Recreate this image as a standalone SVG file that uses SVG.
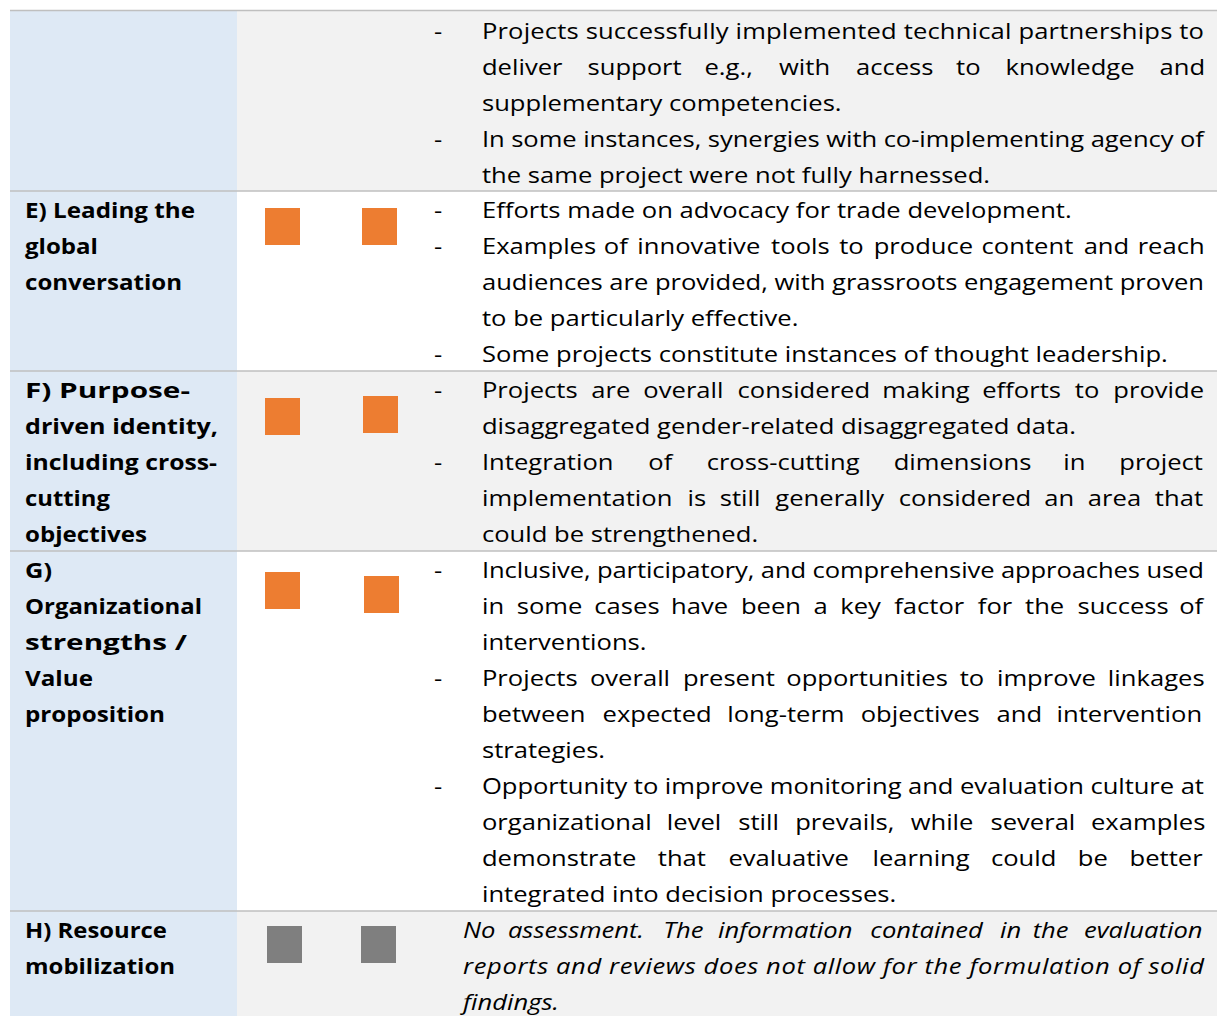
<svg xmlns="http://www.w3.org/2000/svg" width="1217" height="1016" viewBox="0 0 1217 1016">
<style>
.t{font-family:"Open Sans","Liberation Sans",sans-serif;font-size:22px;fill:#000}
.b{font-weight:700}
.i{font-style:italic}
.g{fill:#f2f2f2}
.bl{fill:#dee9f5}
.ln{stroke:#bfbfbf;stroke-width:1.6;fill:none}
.o{fill:#ed7d31}
.n{fill:#7f7f7f}
</style>
<rect width="1217" height="1016" fill="#fff"/>
<g id="backgrounds">
<rect class="g" x="237" y="10" width="980" height="181"/>
<rect class="g" x="237" y="371" width="980" height="180"/>
<rect class="g" x="237" y="911" width="980" height="105"/>
<rect class="bl" x="10" y="10" width="227" height="1006"/>
</g>
<g id="borders">
<line class="ln" x1="10" y1="10.5" x2="1217" y2="10.5"/>
<line class="ln" x1="10" y1="191" x2="1217" y2="191"/>
<line class="ln" x1="10" y1="371" x2="1217" y2="371"/>
<line class="ln" x1="10" y1="551" x2="1217" y2="551"/>
<line class="ln" x1="10" y1="911" x2="1217" y2="911"/>
</g>
<g id="squares">
<rect class="o" x="265" y="208" width="35" height="37"/>
<rect class="o" x="362" y="208" width="35" height="37"/>
<rect class="o" x="265" y="398" width="35" height="37"/>
<rect class="o" x="363" y="396" width="35" height="37"/>
<rect class="o" x="265" y="572" width="35" height="37"/>
<rect class="o" x="364" y="576" width="35" height="37"/>
<rect class="n" x="267" y="926" width="35" height="37"/>
<rect class="n" x="361" y="926" width="35" height="37"/>
</g>
<g transform="scale(1.1636,1)">
<g id="row-d">
<text class="t" x="373" y="39">-</text>
<text class="t" x="414.2" y="39" textLength="620.5" lengthAdjust="spacing">Projects successfully implemented technical partnerships to</text>
<text class="t" y="75"><tspan x="414.2">deliver</tspan><tspan x="504.9">support</tspan><tspan x="605.4">e.g.,</tspan><tspan x="669.5">with</tspan><tspan x="735.6">access</tspan><tspan x="821.6">to</tspan><tspan x="864.1">knowledge</tspan><tspan x="996.5">and</tspan></text>
<text class="t" x="414.2" y="111">supplementary competencies.</text>
<text class="t" x="373" y="147">-</text>
<text class="t" x="414.2" y="147" textLength="620.5" lengthAdjust="spacing">In some instances, synergies with co-implementing agency of</text>
<text class="t" x="414.2" y="183">the same project were not fully harnessed.</text>
</g>
<g id="row-e">
<text class="t b" x="21.5" y="218" textLength="146.1" lengthAdjust="spacingAndGlyphs">E) Leading the</text>
<text class="t b" x="21.5" y="254" textLength="62.7" lengthAdjust="spacingAndGlyphs">global</text>
<text class="t b" x="21.5" y="290" textLength="134.9" lengthAdjust="spacingAndGlyphs">conversation</text>
<text class="t" x="373" y="218">-</text>
<text class="t" x="414.2" y="218">Efforts made on advocacy for trade development.</text>
<text class="t" x="373" y="254">-</text>
<text class="t" y="254"><tspan x="414.2">Examples</tspan><tspan x="518.9">of</tspan><tspan x="547.7">innovative</tspan><tspan x="662.7">tools</tspan><tspan x="721.2">to</tspan><tspan x="750.8">produce</tspan><tspan x="843.6">content</tspan><tspan x="931.3">and</tspan><tspan x="977.7">reach</tspan></text>
<text class="t" x="414.2" y="290" textLength="620.5" lengthAdjust="spacing">audiences are provided, with grassroots engagement proven</text>
<text class="t" x="414.2" y="326">to be particularly effective.</text>
<text class="t" x="373" y="362">-</text>
<text class="t" x="414.2" y="362">Some projects constitute instances of thought leadership.</text>
</g>
<g id="row-f">
<text class="t b" x="21.5" y="398.5" textLength="141.8" lengthAdjust="spacingAndGlyphs">F) Purpose-</text>
<text class="t b" x="21.5" y="434.5" textLength="165.9" lengthAdjust="spacingAndGlyphs">driven identity,</text>
<text class="t b" x="21.5" y="470.5" textLength="165" lengthAdjust="spacingAndGlyphs">including cross-</text>
<text class="t b" x="21.5" y="506.5" textLength="73" lengthAdjust="spacingAndGlyphs">cutting</text>
<text class="t b" x="21.5" y="542.5" textLength="104.8" lengthAdjust="spacingAndGlyphs">objectives</text>
<text class="t" x="373" y="398.5">-</text>
<text class="t" y="398.5"><tspan x="414.2">Projects</tspan><tspan x="508.1">are</tspan><tspan x="552.9">overall</tspan><tspan x="633.9">considered</tspan><tspan x="758.3">making</tspan><tspan x="844.1">efforts</tspan><tspan x="923.7">to</tspan><tspan x="956.8">provide</tspan></text>
<text class="t" x="414.2" y="434.5">disaggregated gender-related disaggregated data.</text>
<text class="t" x="373" y="470.5">-</text>
<text class="t" y="470.5"><tspan x="414.2">Integration</tspan><tspan x="557.2">of</tspan><tspan x="607.3">cross-cutting</tspan><tspan x="768">dimensions</tspan><tspan x="913.8">in</tspan><tspan x="961.9">project</tspan></text>
<text class="t" y="506.5"><tspan x="414.2">implementation</tspan><tspan x="590.8">is</tspan><tspan x="618.6">still</tspan><tspan x="666.3">generally</tspan><tspan x="772.4">considered</tspan><tspan x="897.5">an</tspan><tspan x="934.9">area</tspan><tspan x="992.5">that</tspan></text>
<text class="t" x="414.2" y="542.5">could be strengthened.</text>
</g>
<g id="row-g">
<text class="t b" x="21.5" y="578.5" textLength="23.2" lengthAdjust="spacingAndGlyphs">G)</text>
<text class="t b" x="21.5" y="614.5" textLength="152.1" lengthAdjust="spacingAndGlyphs">Organizational</text>
<text class="t b" x="21.5" y="650.5" textLength="139.2" lengthAdjust="spacingAndGlyphs">strengths /</text>
<text class="t b" x="21.5" y="686.5" textLength="58.4" lengthAdjust="spacingAndGlyphs">Value</text>
<text class="t b" x="21.5" y="722.5" textLength="120.3" lengthAdjust="spacingAndGlyphs">proposition</text>
<text class="t" x="373" y="578.5">-</text>
<text class="t" x="414.2" y="578.5" textLength="620.5" lengthAdjust="spacing">Inclusive, participatory, and comprehensive approaches used</text>
<text class="t" y="614.5"><tspan x="414.2">in</tspan><tspan x="444.1">some</tspan><tspan x="510.8">cases</tspan><tspan x="576.7">have</tspan><tspan x="636.8">been</tspan><tspan x="699.2">a</tspan><tspan x="722.1">key</tspan><tspan x="768.5">factor</tspan><tspan x="840.3">for</tspan><tspan x="880.9">the</tspan><tspan x="926">success</tspan><tspan x="1013.4">of</tspan></text>
<text class="t" x="414.2" y="650.5">interventions.</text>
<text class="t" x="373" y="686.5">-</text>
<text class="t" y="686.5"><tspan x="414.2">Projects</tspan><tspan x="507">overall</tspan><tspan x="586.9">present</tspan><tspan x="675.7">opportunities</tspan><tspan x="824.8">to</tspan><tspan x="856.8">improve</tspan><tspan x="952.1">linkages</tspan></text>
<text class="t" y="722.5"><tspan x="414.2">between</tspan><tspan x="517.8">expected</tspan><tspan x="625">long-term</tspan><tspan x="739.7">objectives</tspan><tspan x="856.4">and</tspan><tspan x="908">intervention</tspan></text>
<text class="t" x="414.2" y="758.5">strategies.</text>
<text class="t" x="373" y="794.5">-</text>
<text class="t" x="414.2" y="794.5" textLength="620.5" lengthAdjust="spacing">Opportunity to improve monitoring and evaluation culture at</text>
<text class="t" y="830.5"><tspan x="414.2">organizational</tspan><tspan x="573.1">level</tspan><tspan x="634.5">still</tspan><tspan x="683.4">prevails,</tspan><tspan x="782.6">while</tspan><tspan x="851.2">several</tspan><tspan x="937.6">examples</tspan></text>
<text class="t" y="866.5"><tspan x="414.2">demonstrate</tspan><tspan x="565.3">that</tspan><tspan x="626">evaluative</tspan><tspan x="749.8">learning</tspan><tspan x="851.6">could</tspan><tspan x="926.3">be</tspan><tspan x="970.7">better</tspan></text>
<text class="t" x="414.2" y="902.5">integrated into decision processes.</text>
</g>
<g id="row-h">
<text class="t b" x="21.5" y="938.5" textLength="122" lengthAdjust="spacingAndGlyphs">H) Resource</text>
<text class="t b" x="21.5" y="974.5" textLength="128.9" lengthAdjust="spacingAndGlyphs">mobilization</text>
<text class="t i" y="938.5"><tspan x="397.9">No</tspan><tspan x="436.5">assessment.</tspan><tspan x="570">The</tspan><tspan x="617">information</tspan><tspan x="748">contained</tspan><tspan x="859.5">in</tspan><tspan x="887.5">the</tspan><tspan x="931.5">evaluation</tspan></text>
<text class="t i" x="397.9" y="974.5" textLength="636.8" lengthAdjust="spacing">reports and reviews does not allow for the formulation of solid</text>
<text class="t i" x="397.9" y="1010.5">findings.</text>
</g>
</g>
</svg>
